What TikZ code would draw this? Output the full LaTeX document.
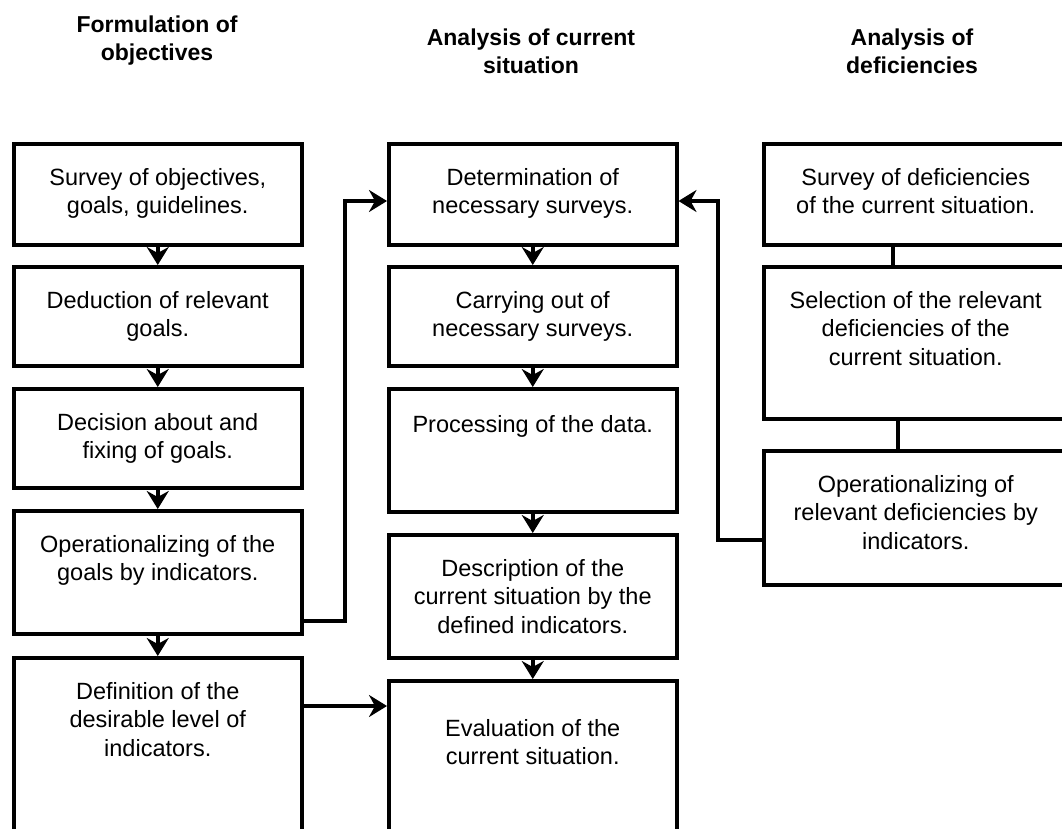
\documentclass[tikz,border=0pt]{standalone}
\usepackage{fontspec}
\setmainfont{Liberation Sans}
\usetikzlibrary{arrows.meta,calc}
\begin{document}
\begin{tikzpicture}[x=1pt,y=-1pt,
  box/.style={draw=black,line width=3.5pt,fill=white,anchor=north west,inner sep=0pt},
  txt/.style={anchor=north,align=center,inner sep=0pt,font=\fontsize{23.5}{28.5}\selectfont},
  ttl/.style={align=center,inner sep=0pt,font=\bfseries\fontsize{23}{28}\selectfont},
  arr/.style={line width=3.5pt,-{Stealth[length=18pt,width=22pt,inset=6pt]}},
  ln/.style={line width=3.5pt}]
\clip (0,0) rectangle (1062,828);
\fill[white] (0,0) rectangle (1062,828);
% titles
\node[ttl] (t1) at (157,41) {Formulation of\\objectives};
\node[ttl] (t2) at (531,51) {Analysis of current\\situation};
\node[ttl] (t3) at (912,51) {Analysis of\\deficiencies};
% left column
\node[box,minimum width=288pt,minimum height=101pt] (l1) at (12,142) {};
\node[box,minimum width=288pt,minimum height=99pt] (l2) at (12,265) {};
\node[box,minimum width=288pt,minimum height=99pt] (l3) at (12,387) {};
\node[box,minimum width=288pt,minimum height=123pt] (l4) at (12,509) {};
\node[box,minimum width=288pt,minimum height=240pt] (l5) at (12,656) {};
% middle column
\node[box,minimum width=288pt,minimum height=101pt] (m1) at (387,142) {};
\node[box,minimum width=288pt,minimum height=99pt] (m2) at (387,265) {};
\node[box,minimum width=288pt,minimum height=123pt] (m3) at (387,387) {};
\node[box,minimum width=288pt,minimum height=123pt] (m4) at (387,533) {};
\node[box,minimum width=288pt,minimum height=240pt] (m5) at (387,679) {};
% right column
\node[box,minimum width=304pt,minimum height=101pt] (r1) at (762,142) {};
\node[box,minimum width=304pt,minimum height=152pt] (r2) at (762,265) {};
\node[box,minimum width=304pt,minimum height=134pt] (r3) at (762,449) {};
% texts
\node[txt] (l1t) at ($(l1.north)+(0,26)$) {Survey of objectives,\\goals, guidelines.};
\node[txt] (l2t) at ($(l2.north)+(0,26)$) {Deduction of relevant\\goals.};
\node[txt] (l3t) at ($(l3.north)+(0,26)$) {Decision about and\\fixing of goals.};
\node[txt] (l4t) at ($(l4.north)+(0,26)$) {Operationalizing of the\\goals by indicators.};
\node[txt] (l5t) at ($(l5.north)+(0,26)$) {Definition of the\\desirable level of\\indicators.};
\node[txt] (m1t) at ($(m1.north)+(0,26)$) {Determination of\\necessary surveys.};
\node[txt] (m2t) at ($(m2.north)+(0,26)$) {Carrying out of\\necessary surveys.};
\node[txt] (m3t) at ($(m3.north)+(0,28)$) {Processing of the data.};
\node[txt] (m4t) at ($(m4.north)+(0,26)$) {Description of the\\current situation by the\\defined indicators.};
\node[txt] (m5t) at ($(m5.north)+(0,40)$) {Evaluation of the\\current situation.};
\node[txt] (r1t) at ($(r1.north)+(0,26)$) {Survey of deficiencies\\of the current situation.};
\node[txt] (r2t) at ($(r2.north)+(0,26)$) {Selection of the relevant\\deficiencies of the\\current situation.};
\node[txt] (r3t) at ($(r3.north)+(0,26)$) {Operationalizing of\\relevant deficiencies by\\indicators.};
% vertical arrows
\draw[arr] (l1) -- (l2);
\draw[arr] (l2) -- (l3);
\draw[arr] (l3) -- (l4);
\draw[arr] (l4) -- (l5);
\draw[arr] (m1) -- (m2);
\draw[arr] (m2) -- (m3);
\draw[arr] (m3) -- (m4);
\draw[arr] (m4) -- (m5);
% right plain links
\coordinate (rx1) at (893,0);
\coordinate (rx2) at (898,0);
\draw[ln] (r1.south -| rx1) -- (r2.north -| rx1);
\draw[ln] (r2.south -| rx2) -- (r3.north -| rx2);
% feedback connectors
\coordinate (ja) at (345,621);
\coordinate (jb) at (345,201);
\draw[arr] (l4.east |- ja) -- (ja) -- (jb) -- (m1.west |- jb);
\coordinate (ka) at (718,540);
\coordinate (kb) at (718,201);
\draw[arr] (r3.west |- ka) -- (ka) -- (kb) -- (m1.east |- kb);
\coordinate (la) at (0,706);
\draw[arr] (l5.east |- la) -- (m5.west |- la);
\end{tikzpicture}
\end{document}
